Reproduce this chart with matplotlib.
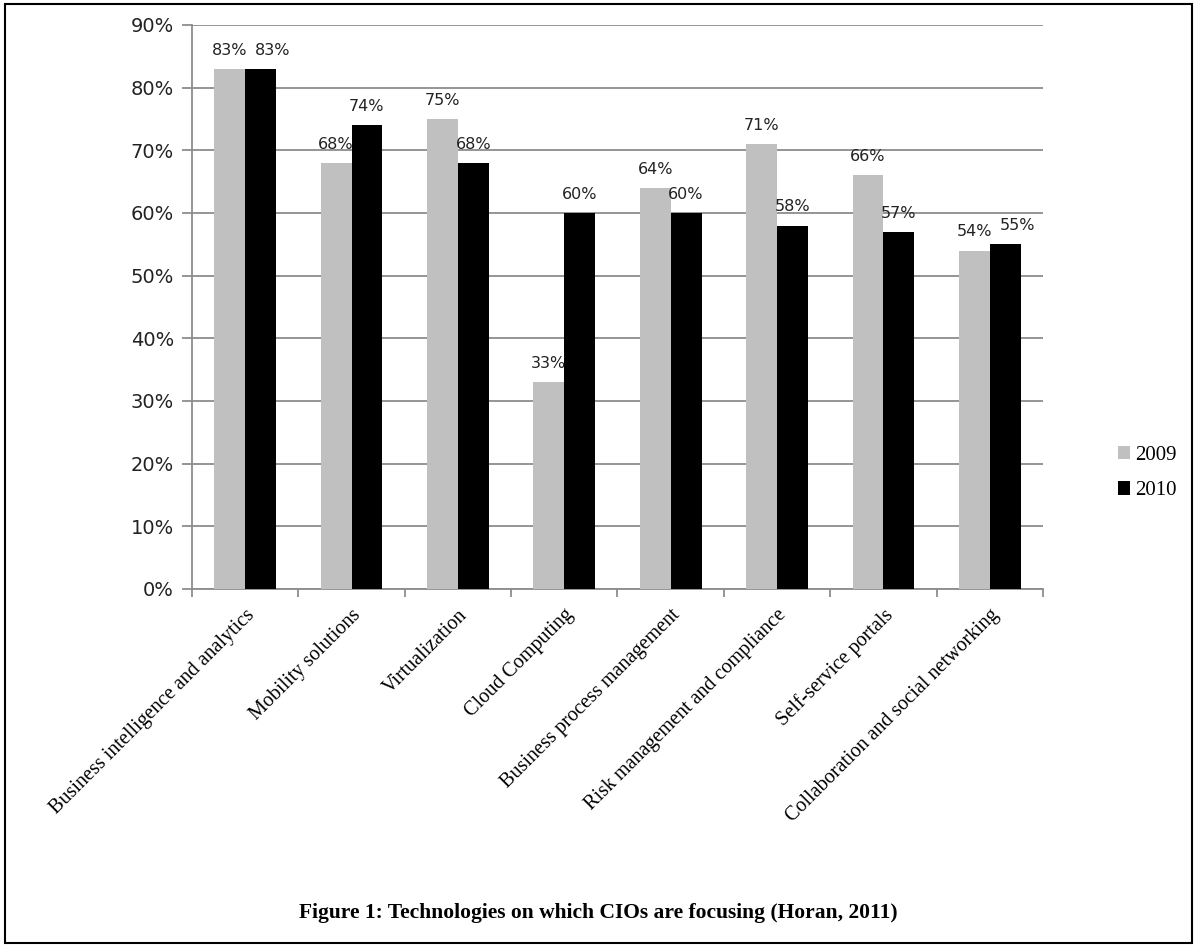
import numpy as np
import matplotlib.pyplot as plt
from matplotlib.patches import Rectangle

categories = ['Business intelligence and analytics', 'Mobility solutions',
              'Virtualization', 'Cloud Computing', 'Business process management',
              'Risk management and compliance', 'Self-service portals',
              'Collaboration and social networking']
vals_2009 = [83, 68, 75, 33, 64, 71, 66, 54]
vals_2010 = [83, 74, 68, 60, 60, 58, 57, 55]
series_names = ['2009', '2010']
yticks = [0, 10, 20, 30, 40, 50, 60, 70, 80, 90]

fig = plt.figure(figsize=(11.97, 9.46), dpi=100)
ax = fig.add_axes([0.1604, 0.3774, 0.7109, 0.5962])

x = np.arange(len(categories))
w = 0.29
b1 = ax.bar(x - w / 2, vals_2009, w, color='#C0C0C0', label=series_names[0], zorder=3)
b2 = ax.bar(x + w / 2, vals_2010, w, color='black', label=series_names[1], zorder=3)

# value labels; nudge the 2010 label right when both bars are about the same height
for i in range(len(categories)):
    for r, dx in ((b1[i], 0), (b2[i], 9 if abs(vals_2009[i] - vals_2010[i]) <= 2 else 0)):
        ax.annotate('%d%%' % r.get_height(), (r.get_x() + r.get_width() / 2, r.get_height()),
                    xytext=(dx, 8), textcoords='offset points', ha='center', va='bottom',
                    fontsize=11.5, family='DejaVu Sans', color='#222222', zorder=4)

ax.set_xlim(-0.5, len(categories) - 0.5)
ax.set_ylim(0, 90)
ax.set_yticks(yticks)
ax.set_yticklabels(['%d%%' % t for t in yticks], family='DejaVu Sans', fontsize=14, color='#222222')
ax.yaxis.grid(True, color='#8c8c8c', linewidth=1.3, zorder=0)
ax.tick_params(axis='y', length=7, width=1.3, color='#8c8c8c', pad=6)

ax.set_xticks(x)
ax.set_xticklabels(categories, rotation=45, ha='right', rotation_mode='anchor',
                   family='Liberation Serif', fontsize=14.5)
ax.tick_params(axis='x', length=0, pad=12)
ax.set_xticks(np.arange(len(categories) + 1) - 0.5, minor=True)
ax.tick_params(axis='x', which='minor', length=6, width=1.3, color='#8c8c8c')

for s in ['top', 'right']:
    ax.spines[s].set_visible(False)
for s in ['left', 'bottom']:
    ax.spines[s].set_color('#8c8c8c')
    ax.spines[s].set_linewidth(1.3)

leg = fig.legend(loc='center left', bbox_to_anchor=(0.934, 0.5), frameon=False,
                 prop={'family': 'Liberation Serif', 'size': 15},
                 handlelength=0.6, handleheight=0.6, handletextpad=0.2, labelspacing=0.8,
                 borderaxespad=0, borderpad=0)

fig.text(0.5, 0.035, 'Figure 1: Technologies on which CIOs are focusing (Horan, 2011)',
         ha='center', va='center', family='Liberation Serif', fontweight='bold', fontsize=15.5)

fig.patches.append(Rectangle((0.004, 0.003), 0.992, 0.993, transform=fig.transFigure,
                             fill=False, edgecolor='black', linewidth=1.5))

fig.savefig('out.png', dpi=100)
